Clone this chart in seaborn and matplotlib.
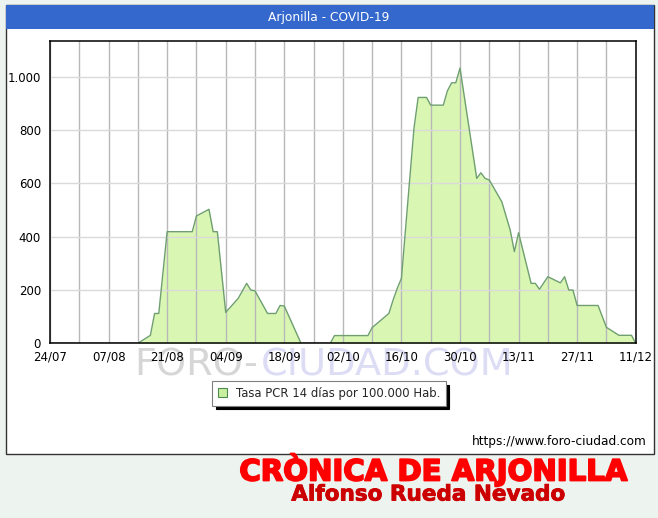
import matplotlib
matplotlib.use('Agg')
import matplotlib.pyplot as plt
import matplotlib.dates as mdates
import matplotlib.patheffects as pe
from matplotlib.patches import Rectangle, Patch
import numpy as np
import pandas as pd
import seaborn as sns

# Tasa PCR 14 dias por 100.000 hab. (breakpoints)
dates = [
    '2020-07-24', '2020-08-14', '2020-08-17', '2020-08-18', '2020-08-19',
    '2020-08-21', '2020-08-27', '2020-08-28', '2020-08-31', '2020-09-01',
    '2020-09-02', '2020-09-04', '2020-09-07', '2020-09-09', '2020-09-10',
    '2020-09-11', '2020-09-14', '2020-09-16', '2020-09-17', '2020-09-18',
    '2020-09-22', '2020-09-29', '2020-09-30', '2020-10-08', '2020-10-09',
    '2020-10-13', '2020-10-14', '2020-10-15', '2020-10-16', '2020-10-19',
    '2020-10-20', '2020-10-22', '2020-10-23', '2020-10-26', '2020-10-27',
    '2020-10-28', '2020-10-29', '2020-10-30', '2020-11-03', '2020-11-04',
    '2020-11-05', '2020-11-06', '2020-11-09', '2020-11-11', '2020-11-12',
    '2020-11-13', '2020-11-16', '2020-11-17', '2020-11-18', '2020-11-20',
    '2020-11-23', '2020-11-24', '2020-11-25', '2020-11-26', '2020-11-27',
    '2020-12-02', '2020-12-04', '2020-12-07', '2020-12-10', '2020-12-11',
]
values = [
    0, 0, 30, 112, 112,
    419, 419, 478, 503, 419,
    419, 116, 169, 225, 200,
    197, 112, 112, 142, 140,
    0, 0, 29, 29, 59,
    112, 162, 206, 244, 807,
    923, 923, 894, 894, 948,
    978, 978, 1033, 619, 640,
    619, 613, 531, 425, 344,
    415, 225, 225, 203, 250,
    227, 250, 200, 200, 142,
    142, 60, 30, 30, 0,
]

tick_dates = ['2020-07-24', '2020-08-07', '2020-08-21', '2020-09-04', '2020-09-18',
              '2020-10-02', '2020-10-16', '2020-10-30', '2020-11-13', '2020-11-27',
              '2020-12-11']
y_ticks = [0, 200, 400, 600, 800, 1000]
y_labels = ['0', '200', '400', '600', '800', '1.000']

title = 'Arjonilla - COVID-19'
legend_label = 'Tasa PCR 14 días por 100.000 Hab.'
source = 'https://www.foro-ciudad.com'
banner1 = 'CRÒNICA DE ARJONILLA'
banner2 = 'Alfonso Rueda Nevado'

FILL = '#d9f7b2'
LINE = '#6f9f70'
W, H = 658, 518

df = pd.DataFrame({'fecha': pd.to_datetime(dates), 'tasa': values})

sns.set_style('white')
plt.rcParams['font.family'] = ['DejaVu Sans']

fig = plt.figure(figsize=(W / 100, H / 100), dpi=100)
fig.patch.set_facecolor('#edf3ee')

def fx(px):
    return px / W

def fy(py):
    return 1 - py / H

# outer white panel + blue header
fig.patches.append(Rectangle((fx(5.5), fy(454)), fx(648), 449 / H, transform=fig.transFigure,
                             facecolor='white', edgecolor='#333333', lw=1, zorder=-3))
fig.patches.append(Rectangle((fx(5.5), fy(29.5)), fx(648), 24 / H, transform=fig.transFigure,
                             facecolor='#3468cd', edgecolor='none', zorder=-2))
fig.text(fx(329), fy(17.5), title, color='white', fontsize=8.8, ha='center', va='center')

ax = fig.add_axes([fx(50), fy(343.3), fx(635.7 - 50), (343.3 - 40.7) / H])
ax.fill_between(df['fecha'], df['tasa'], 0, color=FILL, lw=0, zorder=1)
sns.lineplot(data=df, x='fecha', y='tasa', ax=ax, color=LINE, lw=1, zorder=3)

x0, x1 = pd.Timestamp(tick_dates[0]), pd.Timestamp(tick_dates[-1])
ax.set_xlim(x0, x1)
ax.set_ylim(0, 1136)
ax.set_xticks(pd.to_datetime(tick_dates))
ax.xaxis.set_major_formatter(mdates.DateFormatter('%d/%m'))
ax.set_xticks(pd.date_range(x0, x1, freq='7D'), minor=True)
ax.set_yticks(y_ticks)
ax.set_yticklabels(y_labels)
ax.set_xlabel('')
ax.set_ylabel('')
ax.grid(False)
ax.grid(axis='x', which='both', color='#b8b8b8', lw=1, zorder=2)
ax.grid(axis='y', which='major', color='#dadada', lw=1, zorder=2)
ax.set_axisbelow(False)
for sp in ax.spines.values():
    sp.set_color('black')
    sp.set_linewidth(1.1)
    sp.set_zorder(4)
ax.tick_params(axis='both', which='both', length=0, labelsize=8.5, colors='black')
ax.tick_params(axis='x', pad=5)
ax.tick_params(axis='y', pad=6.5)

# watermark
fig.text(fx(134), fy(375), 'FORO-', color='#d6d6d6', fontsize=27.5, va='baseline', zorder=-1)
fig.text(fx(261), fy(375), 'CIUDAD.COM', color='#dcdcf5', fontsize=27.5, va='baseline', zorder=-1)

handle = Patch(facecolor='#c8f0a0', edgecolor='#4d8a4d', lw=0.8)
leg = fig.legend([handle], [legend_label], loc='center',
                 bbox_to_anchor=(fx(329), fy(393.5)), bbox_transform=fig.transFigure,
                 fontsize=8.4, frameon=True, fancybox=False, framealpha=1,
                 edgecolor='#808080', shadow={'color': 'black', 'alpha': 1, 'ox': 2.5, 'oy': -2.5},
                 handlelength=0.8, handleheight=0.8, handletextpad=0.7,
                 borderpad=0.5, borderaxespad=0)
leg.get_frame().set_linewidth(0.8)

fig.text(fx(647), fy(441), source, fontsize=8.7, ha='right', va='center', color='black')

fig.text(fx(433), fy(470), banner1, fontsize=21, fontweight='bold', family='DejaVu Sans',
         color='#ff0000', ha='center', va='center',
         path_effects=[pe.withStroke(linewidth=1.3, foreground='#ff0000')])
fig.text(fx(428), fy(494.5), banner2, fontsize=15.5, fontweight='bold', family='DejaVu Sans',
         color='#cc0000', ha='center', va='center',
         path_effects=[pe.withStroke(linewidth=0.6, foreground='#cc0000')])

fig.savefig('out.png', dpi=100)
